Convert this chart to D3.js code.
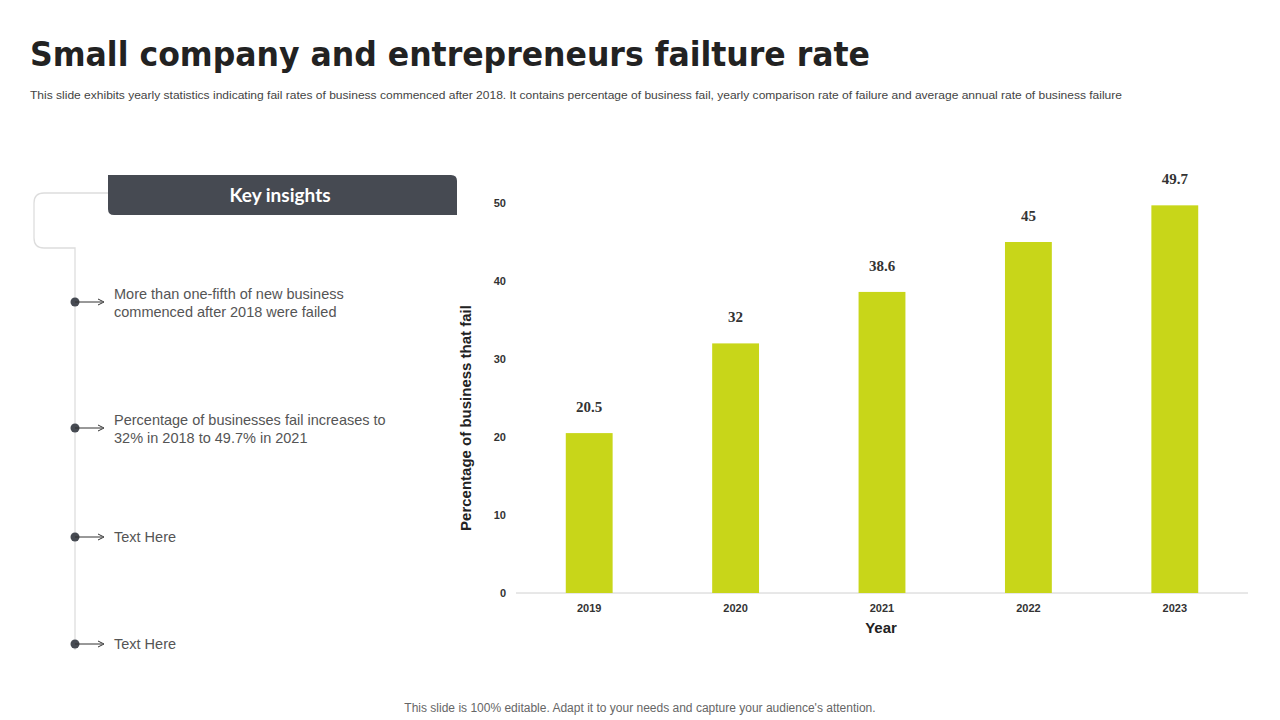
<!DOCTYPE html>
<html><head><meta charset="utf-8">
<script src="https://cdn.jsdelivr.net/npm/d3@7"></script>
<style>body{margin:0;background:#fff;font-family:Arial,"Liberation Sans",sans-serif}</style>
</head><body><svg id="c" width="1280" height="720"></svg>
<script>
const years=["2019","2020","2021","2022","2023"];
const values=[20.5,32,38.6,45,49.7];
const yTicks=[0,10,20,30,40,50];
const insights=[["More than one-fifth of new business","commenced after 2018 were failed"],["Percentage of businesses fail increases to","32% in 2018 to 49.7% in 2021"],["Text Here"],["Text Here"]];
const insightY=[302,428,537,644];

const svg=d3.select("#c");
svg.append("text").attr("x",30).attr("y",66).attr("font-size",34).attr("font-weight","bold").attr("fill","#222").attr("font-family","'DejaVu Sans',Arial,sans-serif").attr("textLength",840).attr("lengthAdjust","spacingAndGlyphs").text("Small company and entrepreneurs failture rate");
svg.append("text").attr("x",30).attr("y",99).attr("font-size",11).attr("fill","#444").attr("textLength",1092).attr("lengthAdjust","spacingAndGlyphs").text("This slide exhibits yearly statistics indicating fail rates of business commenced after 2018. It contains percentage of business fail, yearly comparison rate of failure and average annual rate of business failure");
svg.append("text").attr("x",640).attr("y",712).attr("text-anchor","middle").attr("font-size",12).attr("fill","#666").text("This slide is 100% editable. Adapt it to your needs and capture your audience's attention.");

// left panel
svg.append("path").attr("d","M108,193 L44,193 Q34,193 34,203 L34,238 Q34,248 44,248 L75,248 L75,650").attr("fill","none").attr("stroke","#ddd").attr("stroke-width",1.3);
svg.append("path").attr("d","M108,175 L451,175 Q457,175 457,181 L457,215 L114,215 Q108,215 108,209 Z").attr("fill","#464a52");
svg.append("text").attr("x",280).attr("y",202).attr("text-anchor","middle").attr("font-size",19).attr("font-weight","bold").attr("fill","#fff").attr("font-family","Lato,Arial,sans-serif").text("Key insights");
insights.forEach((lines,i)=>{
  const y=insightY[i];
  svg.append("circle").attr("cx",75).attr("cy",y).attr("r",4.5).attr("fill","#464a52");
  svg.append("line").attr("x1",75).attr("x2",102).attr("y1",y).attr("y2",y).attr("stroke","#333");
  svg.append("path").attr("d",`M98,${y-3} L104,${y} L98,${y+3}`).attr("fill","none").attr("stroke","#333");
  const t=svg.append("text").attr("x",114).attr("y",y-3+(lines.length==1?8:0)).attr("font-size",14.5).attr("fill","#555");
  lines.forEach((l,j)=>t.append("tspan").attr("x",114).attr("dy",j==0?0:18).text(l));
});

// chart
const x=d3.scaleBand().domain(years).range([516,1248]).paddingInner(0.68).paddingOuter(0.34);
const y=d3.scaleLinear().domain([0,50]).range([593,203]);
const g=svg.append("g");
g.append("line").attr("x1",516).attr("x2",1248).attr("y1",593).attr("y2",593).attr("stroke","#d0d0d0");
yTicks.forEach(t=>g.append("text").attr("x",506).attr("y",y(t)+4).attr("text-anchor","end").attr("font-size",11).attr("font-weight","bold").attr("fill","#333").text(t));
years.forEach(yr=>g.append("text").attr("x",x(yr)+x.bandwidth()/2).attr("y",612).attr("text-anchor","middle").attr("font-size",11).attr("font-weight","bold").attr("fill","#333").text(yr));
g.selectAll("rect.b").data(values).join("rect").attr("x",(d,i)=>x(years[i])).attr("width",x.bandwidth()).attr("y",d=>y(d)).attr("height",d=>593-y(d)).attr("fill","#c8d619");
g.selectAll("text.v").data(values).join("text").attr("x",(d,i)=>x(years[i])+x.bandwidth()/2).attr("y",d=>y(d)-21).attr("text-anchor","middle").attr("font-size",15).attr("font-weight","bold").attr("fill","#333").attr("font-family","'Liberation Serif',serif").text(d=>d);
svg.append("text").attr("x",881).attr("y",633).attr("text-anchor","middle").attr("font-size",15).attr("font-weight","bold").attr("fill","#222").text("Year");
svg.append("text").attr("transform","translate(471,418) rotate(-90)").attr("text-anchor","middle").attr("font-size",15).attr("font-weight","bold").attr("fill","#222").text("Percentage of business that fail");
</script></body></html>
